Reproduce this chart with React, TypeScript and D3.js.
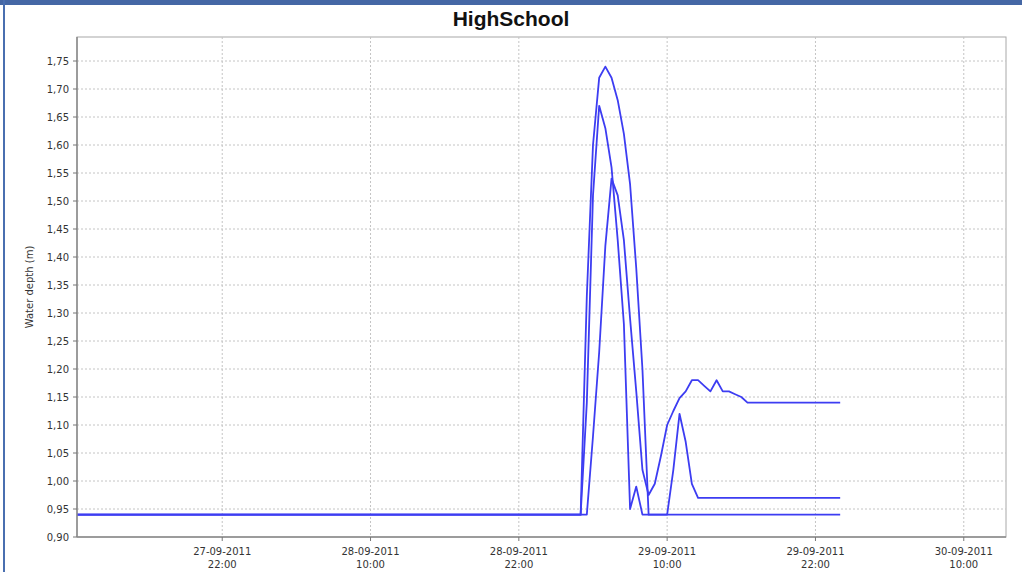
import React from 'react';
import * as d3 from 'd3';

const title = 'HighSchool';
const yLabel = 'Water depth (m)';

// time range of the series and the axis
const startTime = '2011-09-27 10:15';
const endTime = '2011-09-30 00:00';
const axisEnd = '2011-09-30 13:25';

// half-hour readings on 29-09-2011 around the event
const eventTimes = [
  '03:00', '03:30', '04:00', '04:30', '05:00', '05:30', '06:00', '06:30', '07:00', '07:30',
  '08:00', '08:30', '09:00', '09:30', '10:00', '10:30', '11:00', '11:30', '12:00', '12:30',
  '13:00', '13:30', '14:00', '14:30', '15:00', '15:30', '16:00', '16:30', '17:00',
];

const seriesA = [
  0.94, 1.33, 1.60, 1.72, 1.74, 1.72, 1.68, 1.62, 1.53, 1.38,
  1.20, 0.94, 0.94, 0.94, 0.94, 0.94, 0.94, 0.94, 0.94, 0.94,
  0.94, 0.94, 0.94, 0.94, 0.94, 0.94, 0.94, 0.94, 0.94,
];
const seriesB = [
  0.94, 1.14, 1.51, 1.67, 1.63, 1.56, 1.43, 1.28, 0.95, 0.99,
  0.94, 0.94, 0.94, 0.94, 0.94, 1.02, 1.12, 1.07, 0.995, 0.97,
  0.97, 0.97, 0.97, 0.97, 0.97, 0.97, 0.97, 0.97, 0.97,
];
const seriesC = [
  0.94, 0.94, 1.08, 1.23, 1.42, 1.54, 1.51, 1.43, 1.29, 1.16,
  1.02, 0.975, 0.995, 1.045, 1.10, 1.125, 1.148, 1.16, 1.18, 1.18,
  1.17, 1.16, 1.18, 1.16, 1.16, 1.155, 1.15, 1.14, 1.14,
];

const xTickTimes = [
  '2011-09-27 22:00', '2011-09-28 10:00', '2011-09-28 22:00',
  '2011-09-29 10:00', '2011-09-29 22:00', '2011-09-30 10:00',
];
const yTicks = [0.9, 0.95, 1.0, 1.05, 1.1, 1.15, 1.2, 1.25, 1.3, 1.35, 1.4, 1.45, 1.5, 1.55, 1.6, 1.65, 1.7, 1.75];

const W = 1022;
const H = 572;
const margin = { left: 77, right: 1006, top: 37, bottom: 537 };

const parse = d3.utcParse('%Y-%m-%d %H:%M');
const fmtDate = d3.utcFormat('%d-%m-%Y');
const fmtTime = d3.utcFormat('%H:%M');
const fmtY = (v: number) => d3.format('.2f')(v).replace('.', ',');

type Pt = { t: Date; v: number };

const buildSeries = (vals: number[]): Pt[] => {
  const pts: Pt[] = [{ t: parse(startTime)!, v: vals[0] }];
  eventTimes.forEach((hm, i) => pts.push({ t: parse('2011-09-29 ' + hm)!, v: vals[i] }));
  pts.push({ t: parse(endTime)!, v: vals[vals.length - 1] });
  return pts;
};

const App: React.FC = () => {
  const x = d3.scaleUtc()
    .domain([parse(startTime)!, parse(axisEnd)!])
    .range([margin.left, margin.right]);
  const y = d3.scaleLinear()
    .domain([0.9, 0.9 + (margin.bottom - margin.top) / 560])
    .range([margin.bottom, margin.top]);

  const line = d3.line<Pt>()
    .x(d => x(d.t))
    .y(d => y(d.v));

  const all = [seriesA, seriesB, seriesC].map(buildSeries);
  const font = '"DejaVu Sans", Tahoma, sans-serif';

  return (
    <svg width={W} height={H} style={{ position: 'absolute', left: 0, top: 0, background: '#fff' }}>
      {/* window frame */}
      <rect x={0} y={0} width={W} height={5} fill="#4567a5" />
      <rect x={3} y={0} width={2} height={H} fill="#4a6fb0" />

      <text x={511} y={26} textAnchor="middle" fontFamily='"Liberation Sans", Arial, sans-serif'
        fontWeight="bold" fontSize={21} fill="#111">{title}</text>

      <rect x={margin.left} y={margin.top} width={margin.right - margin.left}
        height={margin.bottom - margin.top} fill="#fff" stroke="#a8a8a8" />

      {/* grid */}
      {yTicks.filter(v => v > 0.9).map(v => (
        <line key={'gy' + v} x1={margin.left} x2={margin.right} y1={y(v)} y2={y(v)}
          stroke="#c4c4c4" strokeDasharray="2,2" />
      ))}
      {xTickTimes.map(s => (
        <line key={'gx' + s} x1={x(parse(s)!)} x2={x(parse(s)!)} y1={margin.top} y2={margin.bottom}
          stroke="#c4c4c4" strokeDasharray="2,2" />
      ))}

      {/* series */}
      {all.map((pts, i) => (
        <path key={i} d={line(pts) || ''} fill="none" stroke="#3d3df2" strokeWidth={1.8}
          strokeLinejoin="round" />
      ))}

      {/* axes */}
      <line x1={margin.left} x2={margin.left} y1={margin.top} y2={margin.bottom} stroke="#8a8a8a" strokeWidth={1.5} />
      <line x1={margin.left} x2={margin.right} y1={margin.bottom} y2={margin.bottom} stroke="#8a8a8a" strokeWidth={1.5} />

      {yTicks.map(v => (
        <g key={'ty' + v}>
          <line x1={margin.left - 4} x2={margin.left} y1={y(v)} y2={y(v)} stroke="#777" />
          <text x={margin.left - 8} y={y(v)} dy="0.35em" textAnchor="end" fontFamily={font}
            fontSize={10} fill="#333">{fmtY(v)}</text>
        </g>
      ))}
      {xTickTimes.map(s => {
        const t = parse(s)!;
        return (
          <g key={'tx' + s}>
            <line x1={x(t)} x2={x(t)} y1={margin.bottom} y2={margin.bottom + 4} stroke="#777" />
            <text x={x(t)} y={555} textAnchor="middle" fontFamily={font} fontSize={10} fill="#333">{fmtDate(t)}</text>
            <text x={x(t)} y={568} textAnchor="middle" fontFamily={font} fontSize={10} fill="#333">{fmtTime(t)}</text>
          </g>
        );
      })}

      <text transform={`translate(33,${(margin.top + margin.bottom) / 2}) rotate(-90)`} textAnchor="middle"
        fontFamily={font} fontSize={10} fill="#333">{yLabel}</text>
    </svg>
  );
};

export default App;
